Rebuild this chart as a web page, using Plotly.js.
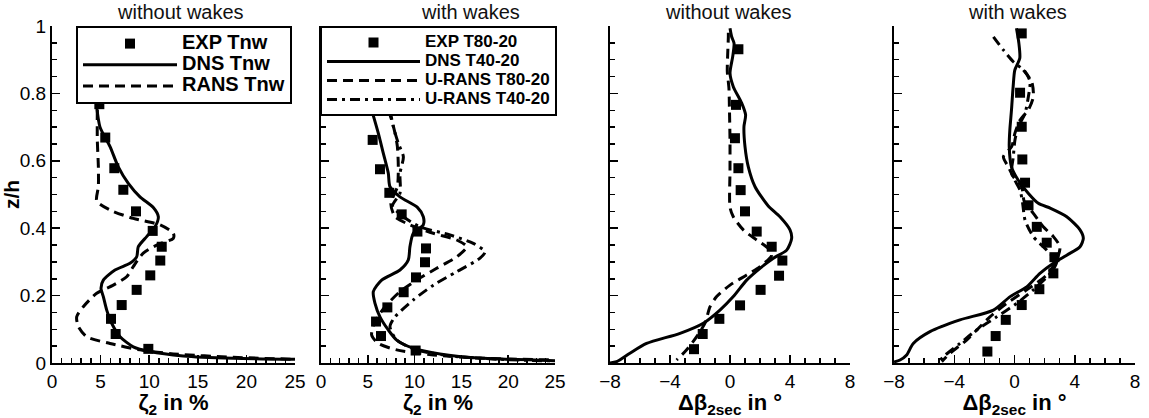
<!DOCTYPE html>
<html>
<head>
<meta charset="utf-8">
<script src="https://cdn.plot.ly/plotly-3.0.1.min.js"></script>
<style>html,body{margin:0;padding:0;background:#fff;}#chart{width:1149px;height:418px;}</style>
</head>
<body>
<div id="chart"></div>
<script>
// ---------- Panel 1: zeta2, without wakes ----------
const p1ExpZeta = [4.87, 5.48, 6.41, 7.34, 8.64, 10.36, 11.29, 11.14, 10.11, 8.71, 7.17, 6.07, 6.55, 9.91];
const p1ExpZ    = [0.768, 0.669, 0.578, 0.514, 0.450, 0.392, 0.345, 0.304, 0.260, 0.217, 0.172, 0.131, 0.086, 0.042];
const p1DnsZeta = [4.6, 4.94, 5.97, 6.82, 7.85, 9.05, 10.4, 10.94, 10.6, 9.74, 8.88, 8.71, 8.02, 6.48, 5.28, 5.04, 5.28, 5.63, 6.14, 7.0, 8.36, 10.08, 13.5, 18.65, 25];
const p1DnsZ    = [0.76, 0.70, 0.642, 0.582, 0.533, 0.493, 0.462, 0.434, 0.404, 0.375, 0.345, 0.315, 0.296, 0.276, 0.246, 0.222, 0.197, 0.157, 0.118, 0.078, 0.048, 0.034, 0.021, 0.014, 0.011];
const p1RansZeta = [4.66, 4.66, 4.77, 4.77, 4.6, 5.97, 8.36, 11.1, 12.48, 12.48, 10.77, 9.39, 8.36, 7.68, 6.31, 4.6, 3.22, 2.54, 2.71, 3.57, 5.97, 9.05, 12.48, 18.65, 25];
const p1RansZ    = [0.751, 0.662, 0.583, 0.523, 0.481, 0.454, 0.429, 0.410, 0.385, 0.370, 0.350, 0.326, 0.286, 0.256, 0.231, 0.207, 0.167, 0.137, 0.108, 0.078, 0.058, 0.039, 0.027, 0.017, 0.011];

// ---------- Panel 2: zeta2, with wakes ----------
const p2ExpZeta = [4.88, 5.52, 6.30, 7.30, 8.62, 10.30, 11.22, 11.11, 10.15, 8.83, 7.09, 5.88, 6.41, 10.11];
const p2ExpZ    = [0.756, 0.662, 0.575, 0.505, 0.441, 0.390, 0.340, 0.299, 0.254, 0.210, 0.165, 0.123, 0.080, 0.037];
const p2DnsZeta = [5.41, 6.12, 6.66, 7.19, 7.37, 8.44, 10.3, 10.93, 10.93, 9.86, 9.5, 9.33, 8.44, 6.48, 5.59, 5.77, 6.30, 7.19, 8.09, 9.86, 12.71, 17.34, 25];
const p2DnsZ    = [0.751, 0.682, 0.622, 0.563, 0.523, 0.493, 0.462, 0.434, 0.410, 0.385, 0.345, 0.306, 0.276, 0.246, 0.212, 0.177, 0.137, 0.098, 0.068, 0.044, 0.027, 0.014, 0.007];
const p2Urans80Zeta = [7.19, 7.55, 7.91, 8.16, 8.26, 8.16, 7.46, 7.91, 9.5, 12.0, 14.5, 15.57, 14.5, 12.36, 10.22, 8.44, 6.84, 5.77, 5.41, 6.12, 8.09, 12.0, 17.3, 25];
const p2Urans80Z    = [0.751, 0.721, 0.682, 0.642, 0.582, 0.523, 0.474, 0.434, 0.410, 0.385, 0.365, 0.345, 0.315, 0.281, 0.246, 0.212, 0.167, 0.123, 0.083, 0.058, 0.039, 0.024, 0.014, 0.009];
const p2Urans40Zeta = [7.37, 7.73, 8.26, 8.8, 8.44, 8.44, 7.64, 8.8, 10.58, 13.78, 16.27, 17.52, 16.99, 14.5, 12.0, 9.86, 7.91, 7.37, 8.09, 10.22, 13.78, 19.1, 25];
const p2Urans40Z    = [0.751, 0.701, 0.652, 0.612, 0.563, 0.504, 0.466, 0.434, 0.404, 0.380, 0.355, 0.330, 0.311, 0.271, 0.231, 0.187, 0.137, 0.108, 0.068, 0.039, 0.021, 0.011, 0.006];

// ---------- Panel 3: delta beta, without wakes ----------
const p3ExpDb = [0.56, 0.40, 0.33, 0.56, 0.71, 1.0, 1.78, 2.78, 3.49, 3.27, 2.04, 0.67, -0.71, -1.82, -2.4];
const p3ExpZ  = [0.931, 0.766, 0.667, 0.578, 0.513, 0.450, 0.390, 0.345, 0.304, 0.259, 0.217, 0.171, 0.131, 0.086, 0.041];
const p3DnsDb = [0, 0.11, 0.27, 0.18, 0, 0.22, 0.78, 1.04, 0.93, 1.0, 1.22, 1.67, 2.55, 3.33, 4.0, 4.11, 3.78, 2.89, 2.0, 1.11, 0.22, -0.67, -1.78, -3.33, -5.56, -6.67, -7.56, -8];
const p3DnsZ  = [0.993, 0.968, 0.949, 0.909, 0.860, 0.820, 0.771, 0.736, 0.701, 0.642, 0.582, 0.523, 0.466, 0.434, 0.395, 0.370, 0.335, 0.311, 0.281, 0.246, 0.197, 0.157, 0.118, 0.088, 0.058, 0.029, 0.004, 0];
const p3RansDb = [-0.11, -0.11, -0.16, -0.18, -0.07, -0.04, 0, 0, 0, 0.22, 0.89, 1.78, 2.55, 2.78, 2.0, 1.11, 0, -0.89, -1.33, -1.67, -2.22, -2.89, -3.56];
const p3RansZ  = [0.98, 0.968, 0.909, 0.865, 0.815, 0.761, 0.662, 0.573, 0.462, 0.434, 0.395, 0.365, 0.340, 0.320, 0.286, 0.261, 0.231, 0.197, 0.167, 0.118, 0.078, 0.039, 0.009];

// ---------- Panel 4: delta beta, with wakes ----------
const p4ExpDb = [0.48, 0.37, 0.48, 0.52, 0.70, 0.93, 1.48, 2.14, 2.65, 2.58, 1.65, 0.48, -0.58, -1.25, -1.80];
const p4ExpZ  = [0.978, 0.802, 0.701, 0.604, 0.535, 0.468, 0.404, 0.357, 0.314, 0.266, 0.219, 0.172, 0.128, 0.080, 0.034];
const p4DnsDb = [0.13, 0.29, 0.35, 0.02, -0.09, -0.20, -0.31, -0.35, -0.20, 0.24, 0.91, 1.58, 2.4, 3.47, 4.35, 4.57, 4.35, 3.47, 2.58, 1.69, 0.81, -0.29, -1.40, -3.62, -5.61, -6.72, -7.16, -7.6, -8];
const p4DnsZ  = [0.993, 0.949, 0.904, 0.869, 0.820, 0.751, 0.691, 0.642, 0.582, 0.543, 0.504, 0.474, 0.459, 0.434, 0.395, 0.370, 0.345, 0.320, 0.296, 0.266, 0.226, 0.197, 0.157, 0.128, 0.093, 0.058, 0.024, 0.009, 0.003];
const p4Urans80Db = [0.59, 1.14, 1.25, 0.92, 0.37, 0.03, -0.19, -0.74, -0.41, -0.08, 0.48, 0.65, 1.25, 1.91, 2.58, 3.02, 2.80, 2.14, 0.81, -0.52, -1.63, -3.18, -4.28, -4.83];
const p4Urans80Z  = [0.869, 0.835, 0.790, 0.751, 0.721, 0.682, 0.642, 0.612, 0.582, 0.553, 0.523, 0.479, 0.444, 0.404, 0.375, 0.345, 0.306, 0.261, 0.217, 0.177, 0.137, 0.068, 0.029, 0.004];
const p4Urans40Db = [-1.40, -0.74, -0.08, 0.70, 1.03, 0.92, 0.70, 0.26, 0.03, -0.08, -0.19, 0.37, 0.54, 0.70, 1.25, 2.14, 2.80, 2.47, 1.25, 0.15, -1.18, -2.51, -3.62, -4.72, -5.06];
const p4Urans40Z  = [0.968, 0.929, 0.894, 0.865, 0.835, 0.790, 0.741, 0.701, 0.662, 0.612, 0.563, 0.513, 0.474, 0.424, 0.375, 0.335, 0.301, 0.271, 0.217, 0.177, 0.137, 0.098, 0.058, 0.019, 0.001];

// ---------- Labels ----------
const legend1Names = ['EXP Tnw', 'DNS Tnw', 'RANS Tnw'];
const legend2Names = ['EXP T80-20', 'DNS T40-20', 'U-RANS T80-20', 'U-RANS T40-20'];
const panelTitles = ['without wakes', 'with wakes', 'without wakes', 'with wakes'];
const zetaTicks = [0, 5, 10, 15, 20, 25];
const betaTicks = [-8, -4, 0, 4, 8];
const zTicks = [0, 0.2, 0.4, 0.6, 0.8, 1];

const FONT = 'Liberation Sans, Arial, Helvetica, sans-serif';
const DASH = '10px,6px';
const DASHDOT = '10px,5px,3px,5px';
const LW = 3;

function span(t, size) { return '<span style="font-size:' + size + 'px">' + t + '</span>'; }

function expTrace(x, y, ax, name, legend, show) {
  return {x: x, y: y, xaxis: 'x' + ax, yaxis: 'y' + ax, mode: 'markers', type: 'scatter',
    marker: {symbol: 'square', size: 10, color: 'black'}, name: name, legend: legend, showlegend: show};
}
function lineTrace(x, y, ax, dash, name, legend, show) {
  return {x: x, y: y, xaxis: 'x' + ax, yaxis: 'y' + ax, mode: 'lines', type: 'scatter',
    line: {color: 'black', width: LW, dash: dash, shape: 'spline', smoothing: 0.7},
    name: name, legend: legend, showlegend: show};
}

const L1 = 20, L2 = 17;
const data = [
  expTrace(p1ExpZeta, p1ExpZ, '', span(legend1Names[0], L1), 'legend', true),
  lineTrace(p1DnsZeta, p1DnsZ, '', 'solid', span(legend1Names[1], L1), 'legend', true),
  lineTrace(p1RansZeta, p1RansZ, '', DASH, span(legend1Names[2], L1), 'legend', true),

  expTrace(p2ExpZeta, p2ExpZ, '2', span(legend2Names[0], L2), 'legend2', true),
  lineTrace(p2DnsZeta, p2DnsZ, '2', 'solid', span(legend2Names[1], L2), 'legend2', true),
  lineTrace(p2Urans80Zeta, p2Urans80Z, '2', DASH, span(legend2Names[2], L2), 'legend2', true),
  lineTrace(p2Urans40Zeta, p2Urans40Z, '2', DASHDOT, span(legend2Names[3], L2), 'legend2', true),

  expTrace(p3ExpDb, p3ExpZ, '3', 'EXP Tnw', 'legend', false),
  lineTrace(p3DnsDb, p3DnsZ, '3', 'solid', 'DNS Tnw', 'legend', false),
  lineTrace(p3RansDb, p3RansZ, '3', DASH, 'RANS Tnw', 'legend', false),

  expTrace(p4ExpDb, p4ExpZ, '4', 'EXP T80-20', 'legend2', false),
  lineTrace(p4DnsDb, p4DnsZ, '4', 'solid', 'DNS T40-20', 'legend2', false),
  lineTrace(p4Urans80Db, p4Urans80Z, '4', DASH, 'U-RANS T80-20', 'legend2', false),
  lineTrace(p4Urans40Db, p4Urans40Z, '4', DASHDOT, 'U-RANS T40-20', 'legend2', false)
];

const W = 1149, H = 418;
const yDom = [1 - 363 / H, 1 - 26 / H];
const xDoms = [[52 / W, 295 / W], [321 / W, 555 / W], [610 / W, 850 / W], [894 / W, 1135 / W]];

function xAxis(i, range, tickvals, title) {
  return {
    domain: xDoms[i], range: range, anchor: i === 0 ? 'y' : 'y' + (i + 1),
    tickmode: 'array', tickvals: tickvals, ticks: 'inside', ticklen: 8, tickwidth: 1.5, tickcolor: 'black',
    minor: {ticks: 'inside', dtick: 1, ticklen: 5, tickwidth: 1.5, tickcolor: 'black'},
    showline: true, linewidth: 2, linecolor: 'black', showgrid: false, zeroline: false,
    tickfont: {family: FONT, size: 19, color: 'black'},
    title: {text: title, font: {family: FONT, size: 22, color: 'black', weight: 'bold'}, standoff: 3},
    fixedrange: true
  };
}
function yAxis(i, showLabels) {
  const ax = {
    domain: yDom, range: [0, 1], anchor: i === 0 ? 'x' : 'x' + (i + 1),
    tickmode: 'array', tickvals: zTicks, ticks: 'inside', ticklen: 8, tickwidth: 1.5, tickcolor: 'black',
    minor: {ticks: 'inside', dtick: 0.05, ticklen: 5, tickwidth: 1.5, tickcolor: 'black'},
    showline: true, linewidth: 2, linecolor: 'black', showgrid: false, zeroline: false,
    showticklabels: showLabels,
    tickfont: {family: FONT, size: 19, color: 'black'},
    fixedrange: true
  };
  if (showLabels) {
    ax.title = {text: 'z/h', font: {family: FONT, size: 21, color: 'black', weight: 'bold'}, standoff: 2};
  }
  return ax;
}

const zetaTitle = 'ζ<sub>2</sub> in %';
const betaTitle = 'Δβ<sub>2sec</sub> in °';
const titleX = [180, 470, 728, 1018];

const layout = {
  width: W, height: H,
  margin: {l: 0, r: 0, t: 0, b: 0},
  paper_bgcolor: 'white', plot_bgcolor: 'white',
  font: {family: FONT, color: 'black'},
  xaxis: xAxis(0, [0, 25], zetaTicks, zetaTitle),
  xaxis2: xAxis(1, [0, 25], zetaTicks, zetaTitle),
  xaxis3: xAxis(2, [-8, 8], betaTicks, betaTitle),
  xaxis4: xAxis(3, [-8, 8], betaTicks, betaTitle),
  yaxis: yAxis(0, true),
  yaxis2: yAxis(1, false),
  yaxis3: yAxis(2, false),
  yaxis4: yAxis(3, false),
  legend: {x: 76 / W, y: 1 - 26 / H, xanchor: 'left', yanchor: 'top', bgcolor: 'white',
    bordercolor: 'black', borderwidth: 2, itemwidth: 94,
    font: {family: FONT, size: 14, color: 'black', weight: 'bold'}},
  legend2: {x: 320 / W, y: 1 - 26 / H, xanchor: 'left', yanchor: 'top', bgcolor: 'white',
    bordercolor: 'black', borderwidth: 2, itemwidth: 93,
    font: {family: FONT, size: 12, color: 'black', weight: 'bold'}},
  annotations: panelTitles.map((t, i) => ({
    text: t, xref: 'paper', yref: 'paper', x: titleX[i] / W, y: 1 - 12 / H,
    xanchor: 'center', yanchor: 'middle', showarrow: false,
    font: {family: FONT, size: 20, color: '#111'}
  })),
  showlegend: true
};

Plotly.newPlot('chart', data, layout, {staticPlot: true, displayModeBar: false});
</script>
</body>
</html>
